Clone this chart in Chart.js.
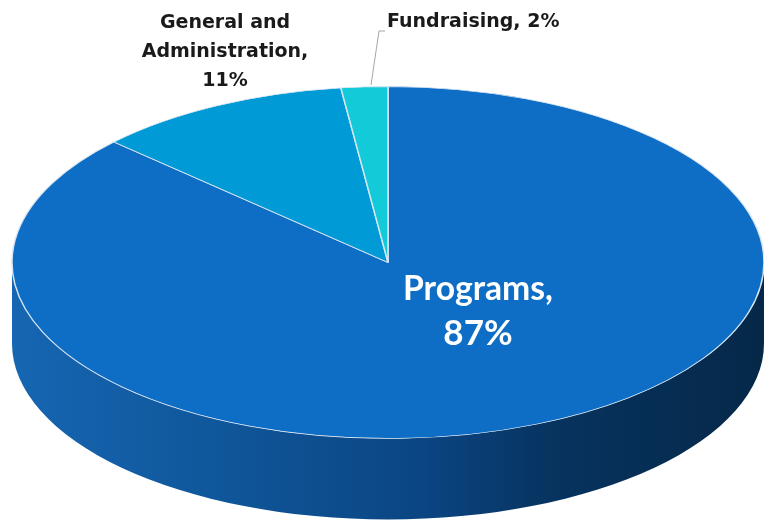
<!DOCTYPE html>
<html>
<head>
<meta charset="utf-8">
<script src="https://cdn.jsdelivr.net/npm/chart.js@4.4.1/dist/chart.umd.min.js"></script>
<style>
  html, body { margin: 0; padding: 0; background: #fff; }
  #wrap { width: 764px; height: 525px; }
</style>
</head>
<body>
<div id="wrap"><canvas id="pie" width="764" height="525"></canvas></div>
<script>
// chart values
const categories = ['Programs', 'General and Administration', 'Fundraising'];
const shares = [87, 11, 2];
const topColors = ['#0e6dc4', '#009ad7', '#13cad9'];
const labelLines = [['Programs,', '87%'], ['General and', 'Administration,', '11%'], ['Fundraising, 2%']];

const tilt = 0.468;   // vertical squash of the top face
const depth = 81;     // height of the cylinder side

function squash(ctx, x, y) {
  ctx.translate(x, y);
  ctx.scale(1, tilt);
  ctx.translate(-x, -y);
}

// text squeezed to a given width, to stand in for the narrow original font
function fitText(ctx, text, x, y, width) {
  const w = ctx.measureText(text).width;
  const sx = Math.min(1, width / w);
  ctx.save();
  ctx.translate(x, y);
  ctx.scale(sx, 1);
  ctx.fillText(text, 0, 0);
  ctx.restore();
}

// draws the pie as a tilted disc with a visible side wall
const fakeThreeD = {
  id: 'fakeThreeD',
  beforeDatasetsDraw(chart) {
    const ctx = chart.ctx;
    const arcs = chart.getDatasetMeta(0).data;
    const { x, y, outerRadius: r } = arcs[0];
    const grad = ctx.createLinearGradient(x - r, 0, x + r, 0);
    grad.addColorStop(0, '#1666b2');
    grad.addColorStop(0.3, '#0f5598');
    grad.addColorStop(0.55, '#0b4582');
    grad.addColorStop(0.72, '#07335f');
    grad.addColorStop(1, '#052848');

    ctx.save();
    arcs.forEach((arc) => {
      const s = arc.startAngle, e = arc.endAngle;
      [[0, Math.PI], [2 * Math.PI, 3 * Math.PI], [-2 * Math.PI, -Math.PI]].forEach(([lo, hi]) => {
        const a0 = Math.max(s, lo), a1 = Math.min(e, hi);
        if (a1 <= a0) return;
        ctx.beginPath();
        ctx.ellipse(x, y, r, r * tilt, 0, a0, a1);
        ctx.ellipse(x, y + depth, r, r * tilt, 0, a1, a0, true);
        ctx.closePath();
        ctx.fillStyle = grad;
        ctx.fill();
      });
    });
    ctx.restore();

    ctx.save();
    squash(ctx, x, y);
  },
  afterDatasetsDraw(chart) {
    chart.ctx.restore();
  },
  afterDraw(chart) {
    const ctx = chart.ctx;
    ctx.save();
    ctx.textAlign = 'center';
    ctx.textBaseline = 'middle';

    ctx.fillStyle = '#ffffff';
    ctx.font = 'bold 35px Lato';
    fitText(ctx, labelLines[0][0], 478, 289, 150);
    fitText(ctx, labelLines[0][1], 478, 334, 76);

    ctx.fillStyle = '#1a1a1a';
    ctx.font = 'bold 19px "DejaVu Sans"';
    fitText(ctx, labelLines[1][0], 225, 23, 146);
    fitText(ctx, labelLines[1][1], 225, 52, 172);
    fitText(ctx, labelLines[1][2], 225, 81, 48);

    ctx.textAlign = 'left';
    fitText(ctx, labelLines[2][0], 387, 22, 176);

    ctx.strokeStyle = '#a6a6a6';
    ctx.lineWidth = 1;
    ctx.beginPath();
    ctx.moveTo(371, 85);
    ctx.lineTo(379, 31);
    ctx.lineTo(385, 31);
    ctx.stroke();
    ctx.restore();
  }
};

new Chart(document.getElementById('pie'), {
  type: 'pie',
  data: {
    labels: categories,
    datasets: [{
      data: shares,
      backgroundColor: topColors,
      borderColor: '#d9e6f3',
      borderWidth: 1.5
    }]
  },
  options: {
    responsive: false,
    animation: false,
    devicePixelRatio: 1,
    radius: 376,
    layout: { padding: { left: 12, top: 0, right: 0, bottom: 0 } },
    plugins: {
      legend: { display: false },
      tooltip: { enabled: false }
    }
  },
  plugins: [fakeThreeD]
});
</script>
</body>
</html>
